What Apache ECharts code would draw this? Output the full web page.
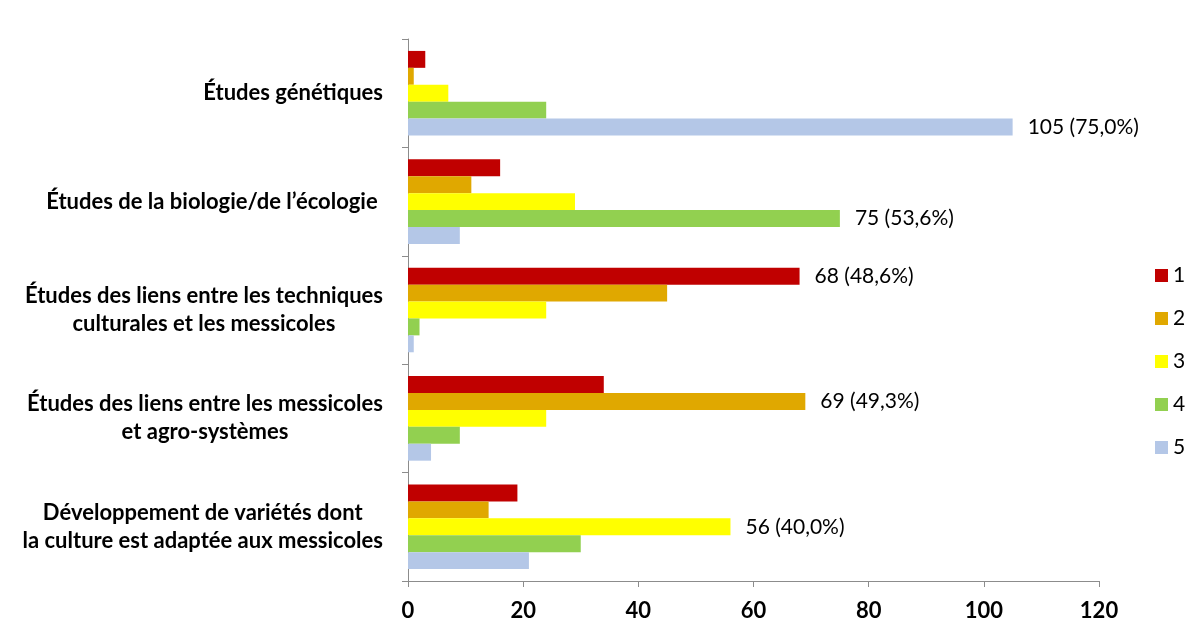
<!DOCTYPE html>
<html>
<head>
<meta charset="utf-8">
<script src="https://cdn.jsdelivr.net/npm/echarts@6/dist/echarts.min.js"></script>
<style>
html,body{margin:0;padding:0;background:#fff;}
#chart{width:1195px;height:622px;}
</style>
</head>
<body>
<div id="chart"></div>
<script>
const categories = [
  "Études génétiques",
  "Études de la biologie/de l’écologie ",
  "Études des liens entre les techniques\nculturales et les messicoles",
  "Études des liens entre les messicoles\net agro-systèmes",
  "Développement de variétés dont\nla culture est adaptée aux messicoles"
];
const seriesNames = ["1", "2", "3", "4", "5"];
const s1 = [3, 16, 68, 34, 19];
const s2 = [1, 11, 45, 69, 14];
const s3 = [7, 29, 24, 24, 56];
const s4 = [24, 75, 2, 9, 30];
const s5 = [105, 9, 1, 4, 21];
const totalRespondents = 140;
const xTicks = [0, 20, 40, 60, 80, 100, 120];
const colors = ["#C00000", "#E0A800", "#FFFF00", "#92D050", "#B4C7E7"];

const allSeries = [s1, s2, s3, s4, s5];
const FONT = "Lato";

function pct(v) {
  return (v / totalRespondents * 100).toFixed(1).replace('.', ',') + '%';
}

const series = allSeries.map((vals, si) => ({
  name: seriesNames[si],
  type: 'bar',
  barGap: '0%',
  barCategoryGap: '22%',
  itemStyle: { color: colors[si] },
  data: vals.map((v, ci) => {
    const mx = Math.max(...allSeries.map(s => s[ci]));
    const item = { value: v };
    if (v === mx) {
      item.label = {
        show: true,
        position: 'right',
        distance: 15,
        color: '#000',
        fontFamily: FONT,
        fontSize: 21,
        formatter: p => p.value + ' (' + pct(p.value) + ')'
      };
    }
    return item;
  })
}));

const chart = echarts.init(document.getElementById('chart'));
chart.setOption({
  animation: false,
  backgroundColor: '#fff',
  grid: { left: 408, right: 96, top: 39, bottom: 39, containLabel: false },
  legend: {
    orient: 'vertical',
    left: 1150,
    top: 260,
    itemWidth: 13,
    itemHeight: 13,
    itemGap: 22,
    icon: 'rect',
    textStyle: { fontFamily: FONT, fontSize: 21, color: '#000', lineHeight: 18 },
    data: seriesNames
  },
  xAxis: {
    type: 'value',
    min: xTicks[0],
    max: xTicks[xTicks.length - 1],
    interval: 20,
    splitLine: { show: false },
    axisLine: { show: true, lineStyle: { color: '#8c8c8c', width: 1 } },
    axisTick: { show: true, length: 6, lineStyle: { color: '#8c8c8c' } },
    axisLabel: { fontFamily: FONT, fontWeight: 'bold', fontSize: 22, color: '#000', margin: 19 }
  },
  yAxis: {
    type: 'category',
    inverse: true,
    data: categories,
    axisLine: { show: true, lineStyle: { color: '#8c8c8c', width: 1 } },
    axisTick: { show: true, length: 6, lineStyle: { color: '#8c8c8c' } },
    axisLabel: {
      margin: 25,
      align: 'right',
      formatter: v => v.split('\n').map(l => '{c|' + l + '}').join('\n'),
      rich: {
        c: { align: 'center', fontFamily: FONT, fontWeight: 'bold', fontSize: 22, color: '#000', lineHeight: 28 }
      }
    }
  },
  series: series
});
</script>
</body>
</html>
